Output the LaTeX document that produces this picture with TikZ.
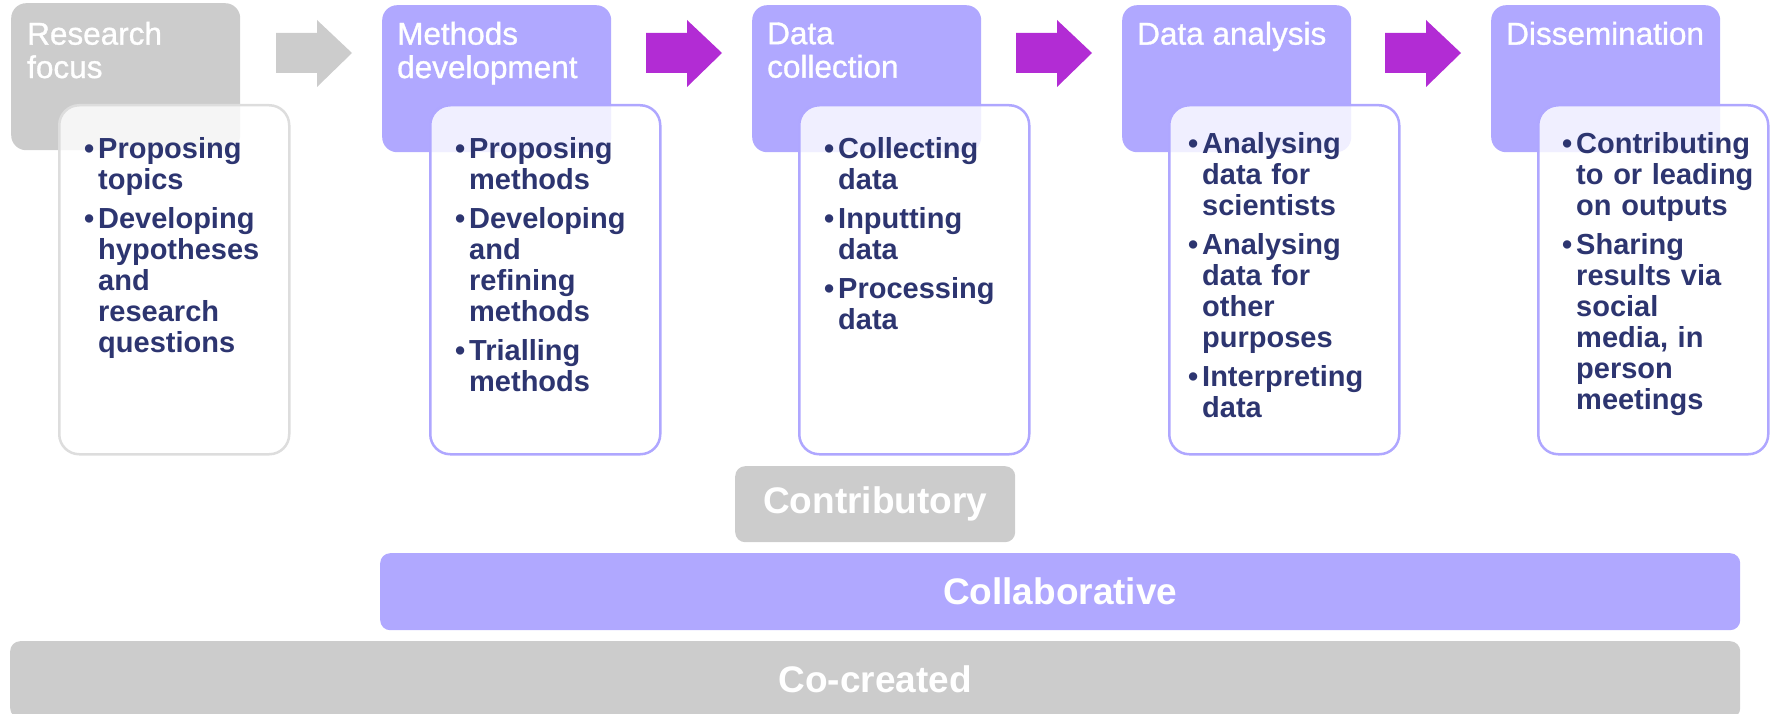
\documentclass[tikz,border=0pt]{standalone}
\usepackage{fontspec}
\setmainfont{Liberation Sans}
\newfontfamily\hdrfont{Liberation Sans}[FakeBold=1]
\definecolor{hdrpurple}{HTML}{B0A8FF}
\definecolor{hdrgray}{HTML}{CCCCCC}
\definecolor{arrowpurple}{HTML}{B22CD4}
\definecolor{navy}{HTML}{2D3570}
\definecolor{bordpurple}{HTML}{AFA7FF}
\definecolor{bordgray}{HTML}{DDDDDD}
\newcommand\bitem[1]{\par\hangindent=14pt\hangafter=1\noindent\strut\makebox[14pt][l]{\textbullet}{\let\\\newline #1}}
\newcommand\bgap{\par\vspace{8pt}}
\tikzset{
  hdrbox/.style={rectangle, rounded corners=15pt, inner sep=0pt, minimum width=229pt, minimum height=147pt, anchor=north west},
  inbox/.style={rectangle, rounded corners=20pt, inner sep=0pt, minimum width=230pt, minimum height=349pt, anchor=north west, fill=white, fill opacity=0.82, line width=2.5pt},
  hdrtext/.style={anchor=north west, inner sep=0pt, text=white, align=left, font=\hdrfont\fontsize{31.5}{32}\selectfont},
  itemtext/.style={anchor=north west, inner sep=0pt, text=navy, text width=204pt, align=left, font=\fontsize{29}{31}\selectfont\bfseries},
  barbox/.style={rectangle, rounded corners=10pt, inner sep=0pt, anchor=north west, text=white, font=\fontsize{37}{40}\selectfont\bfseries}
}
\begin{document}
\begin{tikzpicture}[x=1pt,y=-1pt]
\useasboundingbox (0,0) rectangle (1772,714);
% headers
\node[hdrbox, fill=hdrgray] (h1) at (11,3) {};
\node[hdrbox, fill=hdrpurple] (h2) at (382,5) {};
\node[hdrbox, fill=hdrpurple] (h3) at (752,5) {};
\node[hdrbox, fill=hdrpurple] (h4) at (1122,5) {};
\node[hdrbox, fill=hdrpurple] (h5) at (1491,5) {};
\node[hdrtext] (t1) at (27,21.6) {\strut Research\\focus};
\node[hdrtext] (t2) at (397,21.6) {\strut Methods\\development};
\node[hdrtext] (t3) at (767,21.6) {\strut Data\\collection};
\node[hdrtext] (t4) at (1137,21.6) {\strut Data analysis};
\node[hdrtext] (t5) at (1506,21.6) {\strut Dissemination};
% arrows
\fill[hdrgray, shift={(276,0)}] (0,33) -- (41,33) -- (41,20) -- (76,53) -- (41,87) -- (41,73) -- (0,73) -- cycle;
\fill[arrowpurple, shift={(646,0)}] (0,33) -- (41,33) -- (41,20) -- (76,53) -- (41,87) -- (41,73) -- (0,73) -- cycle;
\fill[arrowpurple, shift={(1016,0)}] (0,33) -- (41,33) -- (41,20) -- (76,53) -- (41,87) -- (41,73) -- (0,73) -- cycle;
\fill[arrowpurple, shift={(1385,0)}] (0,33) -- (41,33) -- (41,20) -- (76,53) -- (41,87) -- (41,73) -- (0,73) -- cycle;
% inner boxes
\node[inbox, draw=bordgray] (b1) at (58,104) {};
\node[inbox, draw=bordpurple] (b2) at (429,104) {};
\node[inbox, draw=bordpurple] (b3) at (798,104) {};
\node[inbox, draw=bordpurple] (b4) at (1168,104) {};
\node[inbox, draw=bordpurple] (b5) at (1537,104) {};
% bullet texts
\node[itemtext] (l1) at (84,127.5) {\bitem{Proposing\\topics}\bgap\bitem{Developing\\hypotheses\\and\\research\\questions}\par};
\node[itemtext] (l2) at (455,127.5) {\bitem{Proposing\\methods}\bgap\bitem{Developing\\and\\refining\\methods}\bgap\bitem{Trialling\\methods}\par};
\node[itemtext] (l3) at (824,127.5) {\bitem{Collecting\\data}\bgap\bitem{Inputting\\data}\bgap\bitem{Processing\\data}\par};
\node[itemtext] (l4) at (1188,122.5) {\bitem{Analysing\\data for\\scientists}\bgap\bitem{Analysing\\data for\\other\\purposes}\bgap\bitem{Interpreting\\data}\par};
\node[itemtext] (l5) at (1562,122.5) {\bitem{Contributing\\to or leading\\on outputs}\bgap\bitem{Sharing\\results via\\social\\media, in\\person\\meetings}\par};
% bottom bars
\node[barbox, fill=hdrgray, minimum width=280pt, minimum height=76pt] (contrib) at (735,466) {Contributory};
\node[barbox, fill=hdrpurple, minimum width=1360pt, minimum height=77pt] (collab) at (380,553) {Collaborative};
\node[barbox, fill=hdrgray, minimum width=1730pt, minimum height=77pt] (cocreated) at (10,641) {Co-created};
\end{tikzpicture}
\end{document}
